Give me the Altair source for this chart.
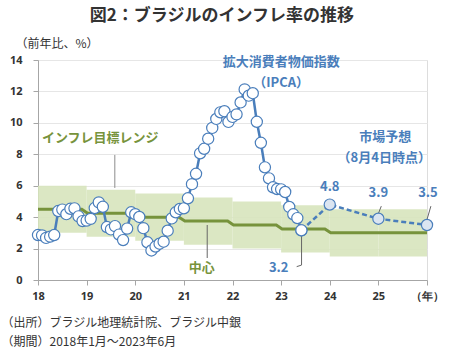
import altair as alt
import pandas as pd

# ---- data ----
ipca_years = [2018]*12 + [2019]*12 + [2020]*12 + [2021]*12 + [2022]*12 + [2023]*6
ipca_months = list(range(1, 13))*5 + list(range(1, 7))
ipca_values = [2.86, 2.84, 2.68, 2.76, 2.86, 4.39, 4.48, 4.19, 4.53, 4.56, 4.05, 3.75,
               3.78, 3.89, 4.58, 4.94, 4.66, 3.37, 3.22, 3.43, 2.89, 2.54, 3.27, 4.31,
               4.19, 4.01, 3.30, 2.40, 1.88, 2.13, 2.31, 2.44, 3.14, 3.92, 4.31, 4.52,
               4.56, 5.20, 6.10, 6.76, 8.06, 8.35, 8.99, 9.68, 10.25, 10.67, 10.74, 10.06,
               10.38, 10.54, 11.30, 12.13, 11.73, 11.89, 10.07, 8.73, 7.17, 6.47, 5.90, 5.79,
               5.77, 5.60, 4.65, 4.18, 3.94, 3.16]

fc_x = [2023 + 5/12, 2024, 2025, 2026]
fc_values = [3.16, 4.8, 3.9, 3.5]

target_years = [2018, 2019, 2020, 2021, 2022, 2023, 2024, 2025]
target_center = [4.5, 4.25, 4.0, 3.75, 3.5, 3.25, 3.0, 3.0]
target_low = [3.0, 2.75, 2.5, 2.25, 2.0, 1.75, 1.5, 1.5]
target_high = [6.0, 5.75, 5.5, 5.25, 5.0, 4.75, 4.5, 4.5]

x_ticks = [2018, 2019, 2020, 2021, 2022, 2023, 2024, 2025, 2026]
y_ticks = [0, 2, 4, 6, 8, 10, 12, 14]

BLUE = "#4a7ebb"
GREEN = "#77933c"
BAND = "#d7e4bd"
FONT = "Noto Sans CJK JP"

ipca = pd.DataFrame({
    "x": [y + (m - 1) / 12 for y, m in zip(ipca_years, ipca_months)],
    "v": ipca_values,
})
fc = pd.DataFrame({"x": fc_x, "v": fc_values})
band = pd.DataFrame({
    "x": target_years,
    "x2": [y + 1 for y in target_years],
    "lo": target_low,
    "hi": target_high,
})
cx, cy = [], []
for yr, c in zip(target_years, target_center):
    cx += [yr + 0.02 if yr > 2018 else yr, yr + 0.9]
    cy += [c, c]
cx[-1] = 2026
center = pd.DataFrame({"x": cx, "v": cy})

XAX = dict(
    values=x_ticks, labelExpr="datum.value == 2026 ? '（年）' : toString(datum.value - 2000)",
    title=None, grid=False, domainColor="#a6a6a6", tickColor="#a6a6a6", tickSize=5,
    labelFont="Noto Sans", labelFontSize=11, labelColor="#333333", labelPadding=5,
    labelFontWeight="bold", labelFlush=False, labelOverlap=False)
YAX = dict(
    values=y_ticks, title=None, grid=True, gridColor="#e6e6e6",
    domainColor="#a6a6a6", tickColor="#a6a6a6", tickSize=5,
    labelFont="Noto Sans", labelFontSize=11, labelColor="#333333", labelPadding=11,
    labelFontWeight="bold", labelOverlap=False, labelFlush=False)


def PX(f="x:Q"):
    return alt.X(f, scale=alt.Scale(domain=[2018, 2026], nice=False, zero=False),
                 axis=alt.Axis(**XAX))


def PY(f="v:Q"):
    return alt.Y(f, scale=alt.Scale(domain=[0, 14], nice=False), axis=alt.Axis(**YAX))


band_l = alt.Chart(band).mark_rect(color=BAND, opacity=0.9).encode(
    x=PX(), x2="x2:Q", y=PY("lo:Q"), y2="hi:Q")
center_l = alt.Chart(center).mark_line(color=GREEN, strokeWidth=3).encode(x=PX(), y=PY())

# leader lines (data space)
lead_x = [2019.58, 2019.58, 2021.48, 2021.48, 2023.42, 2023.42, 2023.32,
          2025.06, 2024.99, 2026.08, 2026.0]
lead_y = [7.96, 5.86, 3.5, 1.4, 3.0, 0.95, 0.85, 4.7, 4.15, 4.7, 3.85]
lead_g = ["a", "a", "b", "b", "c", "c", "c", "d", "d", "e", "e"]
lead_c = ["#8c8c8c", "#8c8c8c", "#666666", "#666666", "#666666", "#666666", "#666666",
          "#666666", "#666666", "#666666", "#666666"]
leads = pd.DataFrame({"x": lead_x, "v": lead_y, "g": lead_g, "c": lead_c,
                      "o": list(range(len(lead_x)))})
lead_l = alt.Chart(leads).mark_line(strokeWidth=1).encode(
    x=PX(), y=PY(), detail="g:N", color=alt.Color("c:N", scale=None), order="o:Q")

ipca_line = alt.Chart(ipca).mark_line(color=BLUE, strokeWidth=2.5).encode(x=PX(), y=PY())
ipca_pts = alt.Chart(ipca).mark_point(filled=True, fill="white", stroke=BLUE,
                                      strokeWidth=1.2, size=125, opacity=1).encode(x=PX(), y=PY())
fc_line = alt.Chart(fc).mark_line(color=BLUE, strokeWidth=2.5, strokeDash=[5, 3]).encode(
    x=PX(), y=PY())
fc_pts = alt.Chart(fc.iloc[1:]).mark_point(filled=True, fill="#dbe5f1", stroke=BLUE,
                                           strokeWidth=1.2, size=125, opacity=1).encode(
    x=PX(), y=PY())
last_pt = alt.Chart(fc.iloc[:1]).mark_point(filled=True, fill="white", stroke=BLUE,
                                            strokeWidth=1.2, size=125, opacity=1).encode(
    x=PX(), y=PY())

# text annotations
ann_text = ["拡大消費者物価指数", "（IPCA）", "インフレ目標レンジ", "中心", "3.2",
            "4.8", "3.9", "3.5", "市場予想", "（8月4日時点）"]
ann_x = [2023.0, 2023.0, 2019.28, 2021.37, 2022.95, 2024.0, 2025.0, 2026.02, 2025.14, 2025.12]
ann_y = [13.88, 12.55, 9.04, 0.76, 0.76, 5.92, 5.54, 5.54, 9.1, 7.77]
ann_c = [BLUE, BLUE, GREEN, GREEN, BLUE, BLUE, BLUE, BLUE, BLUE, BLUE]
ann = pd.DataFrame({"x": ann_x, "v": ann_y, "t": ann_text, "c": ann_c})
ann_l = alt.Chart(ann).mark_text(font=FONT, fontSize=13, fontWeight="bold",
                                 baseline="middle", align="center").encode(
    x=PX(), y=PY(), text="t:N", color=alt.Color("c:N", scale=None))

title_l = alt.Chart(pd.DataFrame({"x": [2021.78], "v": [16.8], "t": ["図2：ブラジルのインフレ率の推移"]})).mark_text(
    font=FONT, fontSize=17, fontWeight="bold", color="#333333", baseline="middle").encode(
    x=PX(), y=PY(), text="t:N")
ytitle_l = alt.Chart(pd.DataFrame({"x": [2018.39], "v": [15.02], "t": ["（前年比、%）"]})).mark_text(
    font=FONT, fontSize=12, color="#333333", baseline="middle").encode(
    x=PX(), y=PY(), text="t:N")

note_text = ["（出所）ブラジル地理統計院、ブラジル中銀", "（期間）2018年1月～2023年6月"]
note_y = [-2.74, -3.95]
notes = pd.DataFrame({"x": [2017.25, 2017.25], "v": note_y, "t": note_text})
notes_l = alt.Chart(notes).mark_text(font=FONT, fontSize=12, color="#333333",
                                     align="left", baseline="middle").encode(
    x=PX(), y=PY(), text="t:N")

chart = alt.layer(band_l, center_l, lead_l, ipca_line, ipca_pts, fc_line,
                  fc_pts, last_pt, ann_l, title_l, ytitle_l, notes_l).properties(
    width=389, height=220,
    autosize=alt.AutoSizeParams(type="none"),
    padding={"left": 38, "top": 60, "right": 23, "bottom": 76},
).configure_view(stroke=None).configure(background="white")

chart.save("out.html", embed_options={"renderer": "svg", "actions": False})
